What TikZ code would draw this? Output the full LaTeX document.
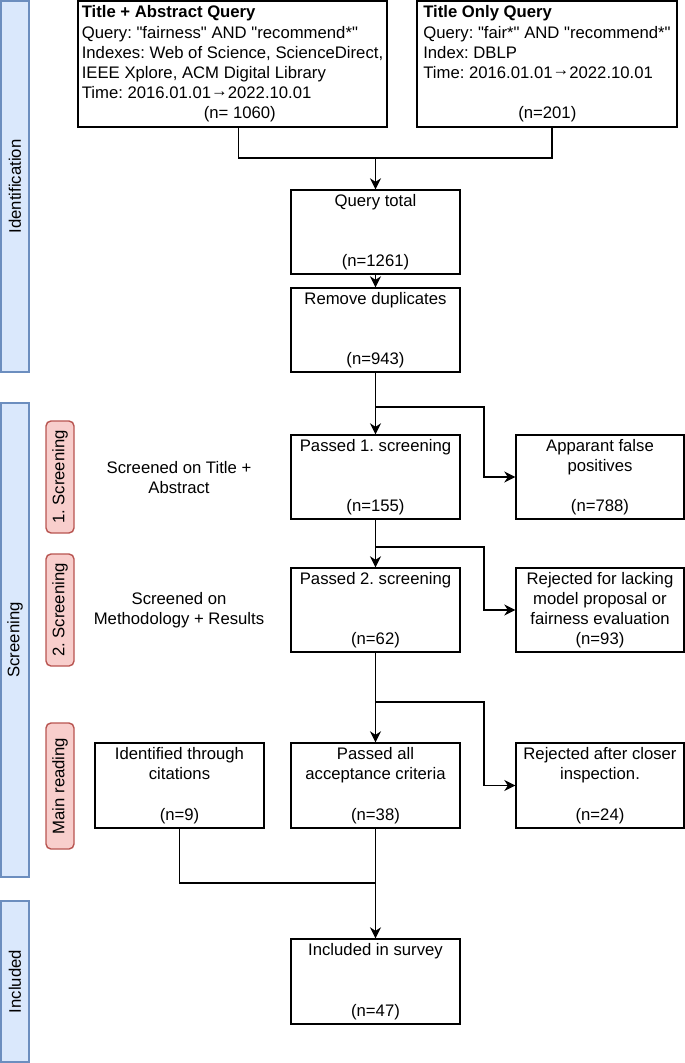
\documentclass[tikz,border=0pt]{standalone}
\usepackage{fontspec}
\setmainfont{Liberation Sans}[Ligatures=TeXOff]
\usetikzlibrary{arrows.meta}
\definecolor{barfill}{HTML}{DAE8FC}
\definecolor{bardraw}{HTML}{6C8EBF}
\definecolor{tabfill}{HTML}{F8CECC}
\definecolor{tabdraw}{HTML}{B85450}
\newcommand{\rarr}{\raisebox{2.5pt}{→}}
\tikzset{
  every node/.style={font=\fontsize{16.7}{20.2}\selectfont\frenchspacing},
  box/.style={draw, line width=1.4pt, align=center, minimum width=169pt, minimum height=84pt, inner sep=0pt},
  qbox/.style={draw, line width=1.4pt, align=left, inner xsep=0pt, inner ysep=0pt, minimum height=126pt},
  bar/.style={draw=bardraw, fill=barfill, line width=1.4pt, rotate=90, minimum height=28pt, inner sep=0pt},
  tab/.style={draw=tabdraw, fill=tabfill, line width=1.4pt, rotate=90, rounded corners=5pt, minimum height=28pt, inner sep=0pt},
  side/.style={align=center, inner sep=0pt},
  conn/.style={line width=1.4pt},
  arr/.style={line width=1.4pt, -{Stealth[length=11pt,width=11pt,inset=3.5pt]}}
}
\begin{document}
\begin{tikzpicture}[x=1pt,y=-1pt]
\useasboundingbox (0,0) rectangle (685,1063);

% phase bars
\node[bar, minimum width=371pt] (bid) at (15,186.5) {Identification};
\node[bar, minimum width=474pt] (bsc) at (15,640) {Screening};
\node[bar, minimum width=161pt] (bin) at (15,981.5) {Included};

% stage tabs
\node[tab, minimum width=112pt] (t1) at (60,477) {1. Screening};
\node[tab, minimum width=112pt] (t2) at (60,610) {2. Screening};
\node[tab, minimum width=126pt] (t3) at (60,786) {Main reading};

% side descriptions
\node[side] (s1) at (179,477.5) {Screened on Title +\\Abstract};
\node[side] (s2) at (179,610) {Screened on\\Methodology + Results};

% query boxes
\node[qbox, minimum width=309pt] (ta) at (232.5,64) {\textbf{Title + Abstract Query}\\
Query: "fairness" AND "recommend*"\\
Indexes: Web of Science, ScienceDirect,\\
IEEE Xplore, ACM Digital Library\\
Time: 2016.01.01\rarr2022.10.01\\
\hspace*{122pt}(n= 1060)};
\node[qbox, minimum width=260pt] (to) at (547,64) {\textbf{Title Only Query}\\
Query: "fair*" AND "recommend*"\\
Index: DBLP\\
Time: 2016.01.01\rarr2022.10.01\\
\mbox{}\\
\hspace*{95pt}(n=201)};

% flow boxes
\node[box] (qt) at (375.5,232) {Query total\\[40.4pt](n=1261)};
\node[box] (rd) at (375.5,330) {Remove duplicates\\[40.4pt](n=943)};
\node[box] (p1) at (375.5,477) {Passed 1. screening\\[40.4pt](n=155)};
\node[box, minimum width=168pt] (fp) at (600,477) {Apparant false\\positives\\[20.2pt](n=788)};
\node[box] (p2) at (375.5,610) {Passed 2. screening\\[40.4pt](n=62)};
\node[box, minimum width=168pt] (rj1) at (600,610) {Rejected for lacking\\model proposal or\\fairness evaluation\\(n=93)};
\node[box, minimum height=85pt] (id) at (179.5,785.5) {Identified through\\citations\\[20.2pt](n=9)};
\node[box, minimum height=85pt] (pa) at (375.5,785.5) {Passed all\\acceptance criteria\\[20.2pt](n=38)};
\node[box, minimum width=168pt, minimum height=85pt] (rj2) at (600,785.5) {Rejected after closer\\inspection.\\[20.2pt](n=24)};
\node[box, minimum height=85pt] (inc) at (375.5,981.5) {Included in survey\\[40.4pt](n=47)};

% junctions and bends
\coordinate (j1) at (375.5,158);
\coordinate (j2) at (375.5,407);
\coordinate (b1) at (484,407);
\coordinate (j3) at (375.5,547);
\coordinate (b2) at (484,547);
\coordinate (j4) at (375.5,702);
\coordinate (b3) at (484,702);
\coordinate (j5) at (375.5,883);

% connectors
\draw[conn] ([xshift=6pt]ta.south) |- (j1) -| ([xshift=5pt]to.south);
\draw[arr] (j1) -- (qt.north);
\draw[arr] (qt) -- (rd);
\draw[arr] (rd) -- (p1);
\draw[arr] (j2) -- (b1) |- (fp.west);
\draw[arr] (p1) -- (p2);
\draw[arr] (j3) -- (b2) |- (rj1.west);
\draw[arr] (p2) -- (pa);
\draw[arr] (j4) -- (b3) |- (rj2.west);
\draw[arr] (pa) -- (inc);
\draw[conn] (id.south) |- (j5);
\end{tikzpicture}
\end{document}
